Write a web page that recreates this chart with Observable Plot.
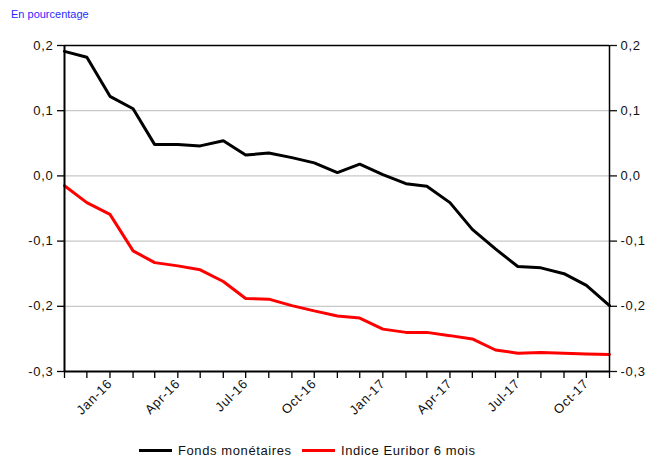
<!DOCTYPE html>
<html><head><meta charset="utf-8">
<script src="https://cdn.jsdelivr.net/npm/d3@7"></script>
<script src="https://cdn.jsdelivr.net/npm/@observablehq/plot@0.6"></script>
<style>
body{margin:0;background:#fff;font-family:"Liberation Sans",Arial,sans-serif;}
#wrap{position:relative;width:645px;height:459px;overflow:hidden;background:#fff}
#chart{position:absolute;left:0;top:0}
#title{position:absolute;left:11px;top:8px;font-size:11px;color:#2a2aff}
.leg{position:absolute;top:443px;font-size:13px;color:#111;white-space:nowrap;line-height:16px;letter-spacing:0.6px}
.sw{display:inline-block;width:33px;height:3px;vertical-align:middle;margin-right:6px;position:relative;top:-1px}
</style></head>
<body>
<div id="wrap">
<div id="chart"></div>
<div id="title">En pourcentage</div>
<div id="legend"></div>
</div>
<script>
const months = ["2015-11","2015-12","2016-01","2016-02","2016-03","2016-04","2016-05","2016-06","2016-07","2016-08","2016-09","2016-10","2016-11","2016-12","2017-01","2017-02","2017-03","2017-04","2017-05","2017-06","2017-07","2017-08","2017-09","2017-10","2017-11"];
const fonds = [0.191,0.182,0.122,0.103,0.048,0.048,0.046,0.054,0.032,0.035,0.028,0.020,0.005,0.018,0.002,-0.012,-0.016,-0.041,-0.082,-0.112,-0.139,-0.141,-0.150,-0.168,-0.199];
const euribor = [-0.015,-0.041,-0.059,-0.115,-0.133,-0.138,-0.144,-0.162,-0.188,-0.189,-0.199,-0.207,-0.215,-0.218,-0.235,-0.240,-0.240,-0.245,-0.250,-0.267,-0.272,-0.271,-0.272,-0.273,-0.274];
const seriesNames = ["Fonds monétaires","Indice Euribor 6 mois"];
const seriesColors = ["#000000","#ff0000"];
const yTicks = [-0.3,-0.2,-0.1,0.0,0.1,0.2];
const gridTicks = [-0.2,-0.1,0.0,0.1];
const xLabelMonths = ["2016-01","2016-04","2016-07","2016-10","2017-01","2017-04","2017-07","2017-10"];

const parse = d3.utcParse("%Y-%m");
const dates = months.map(parse);
const data = [];
dates.forEach((d,i)=>{
  data.push({date:d, value:fonds[i], series:seriesNames[0]});
  data.push({date:d, value:euribor[i], series:seriesNames[1]});
});
const first = dates[0], last = dates[dates.length-1];
const fmt = d => d.toFixed(1).replace(".", ",");

const chart = Plot.plot({
  width:645, height:459,
  marginLeft:64, marginRight:36, marginTop:45, marginBottom:88,
  style:{fontFamily:"Liberation Sans, Arial, sans-serif", background:"transparent"},
  x:{type:"utc", domain:[first,last]},
  y:{domain:[-0.3,0.2]},
  color:{domain:seriesNames, range:seriesColors},
  marks:[
    Plot.ruleY(gridTicks,{stroke:"#c8c8c8", strokeWidth:1.2}),
    Plot.axisY({anchor:"left", ticks:yTicks, tickFormat:fmt, tickSize:7, tickPadding:4, fontSize:13, label:null, stroke:"#000", color:"#111", strokeWidth:1.3}),
    Plot.axisY({anchor:"right", ticks:yTicks, tickFormat:fmt, tickSize:7, tickPadding:4, fontSize:13, label:null, color:"#111", strokeWidth:1.3}),
    Plot.axisX({ticks:dates, tickFormat:()=>"", tickSize:7, label:null, strokeWidth:1.3}),
    Plot.axisX({ticks:xLabelMonths.map(parse), tickFormat:d3.utcFormat("%b-%y"), tickSize:0, tickPadding:10, tickRotate:-45, fontSize:13, label:null, color:"#111"}),
    Plot.line(data,{x:"date", y:"value", stroke:"series", strokeWidth:3, strokeLinejoin:"miter"}),
    Plot.ruleY([0.2],{stroke:"#000", strokeWidth:1.5}),
    Plot.ruleY([-0.3],{stroke:"#000", strokeWidth:2}),
    Plot.ruleX([first],{stroke:"#000", strokeWidth:2}),
    Plot.ruleX([last],{stroke:"#000", strokeWidth:1.5})
  ]
});
d3.select(chart).selectAll("text").style("letter-spacing","0.7px");
document.getElementById("chart").appendChild(chart);

const legPos = [139, 302];
const leg = document.getElementById("legend");
seriesNames.forEach((n,i)=>{
  const s = document.createElement("div");
  s.className = "leg";
  s.style.left = legPos[i]+"px";
  s.innerHTML = `<span class="sw" style="background:${seriesColors[i]}"></span>${n}`;
  leg.appendChild(s);
});
</script>
</body></html>
